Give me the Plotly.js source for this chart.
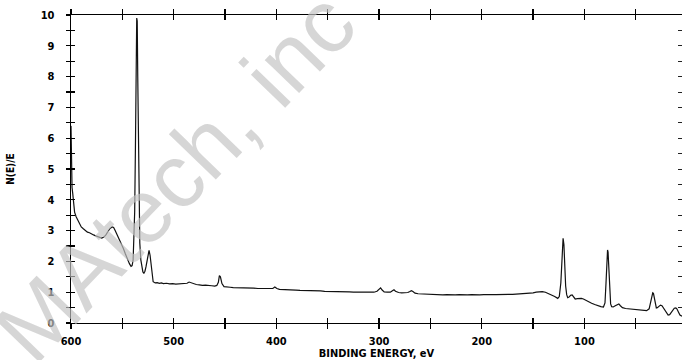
<!DOCTYPE html>
<html>
<head>
<meta charset="utf-8">
<script src="https://cdn.plot.ly/plotly-3.0.1.min.js"></script>
<style>html,body{margin:0;padding:0;background:#fff;}#chart{width:683px;height:360px;}</style>
</head>
<body>
<div id="chart"></div>
<script>
// Binding energy (eV) and N(E)/E
const bindingEnergy = [600, 599.5, 599, 598.3, 597.5, 596.5, 595, 593.5, 592, 590, 588, 586, 584, 582, 580, 578, 576, 574, 572, 570, 568, 566, 564, 562, 560, 558.5, 557, 555, 553, 551, 549, 547, 545, 543, 541.5, 540.5, 539.5, 538.8, 538, 537.3, 536.6, 536, 535.5, 535, 534.4, 533.8, 533, 532, 531, 530, 529, 528, 527, 526, 525, 524, 523, 522, 521, 520, 518, 516, 514, 512, 510, 507, 504, 501, 498, 495, 492, 489, 487, 485, 483, 481, 478, 475, 472, 469, 466, 463, 460, 458, 456.5, 455.5, 454.5, 453, 451, 448, 445, 442, 438, 434, 430, 426, 422, 418, 414, 410, 406, 403.5, 401.5, 399.5, 397, 393, 389, 385, 381, 377, 373, 369, 365, 361, 357, 353, 349, 345, 341, 337, 333, 329, 325, 321, 317, 313, 309, 305, 302, 300, 298.5, 297, 295, 292, 289, 287, 285.5, 284, 281, 278, 275, 272, 270, 268.5, 267, 265, 262, 258, 254, 250, 246, 242, 238, 234, 230, 226, 222, 218, 214, 210, 206, 202, 198, 194, 190, 186, 182, 178, 174, 170, 166, 162, 158, 154, 150, 147, 144, 141, 138, 135, 132, 129, 126, 124.5, 123, 122, 121.3, 120.8, 120, 119.3, 118.3, 117.3, 116.3, 115, 113.5, 112, 110.5, 109, 107, 105, 103, 101, 99, 96, 93, 90, 87, 84, 81.5, 80, 79, 78.2, 77.5, 77, 76.2, 75.3, 74.5, 73.5, 72, 70, 68, 66.5, 65, 63, 60, 57, 54, 51, 48, 45, 42, 39.5, 37, 35.5, 34.5, 33.5, 32.8, 32, 31, 30, 29, 27.5, 26, 24.5, 23, 21.5, 20, 18.5, 17, 15.5, 14, 12.5, 11, 10, 8.5, 7, 5];
const intensity = [6.4, 5.0, 4.4, 4.2, 3.8, 3.6, 3.45, 3.34, 3.26, 3.12, 3.06, 3.00, 2.95, 2.93, 2.88, 2.86, 2.83, 2.80, 2.77, 2.76, 2.79, 2.86, 2.97, 3.07, 3.12, 3.10, 3.00, 2.86, 2.72, 2.58, 2.42, 2.24, 2.06, 1.92, 1.84, 1.86, 2.05, 2.6, 3.6, 5.6, 8.0, 9.9, 9.8, 8.0, 5.5, 3.6, 2.6, 2.05, 1.80, 1.66, 1.62, 1.68, 1.82, 2.02, 2.22, 2.36, 2.20, 1.85, 1.50, 1.34, 1.30, 1.31, 1.29, 1.30, 1.28, 1.29, 1.27, 1.28, 1.26, 1.27, 1.26, 1.27, 1.29, 1.33, 1.30, 1.27, 1.25, 1.24, 1.22, 1.23, 1.21, 1.21, 1.20, 1.22, 1.32, 1.54, 1.50, 1.28, 1.18, 1.16, 1.16, 1.15, 1.15, 1.14, 1.15, 1.13, 1.13, 1.12, 1.12, 1.11, 1.10, 1.12, 1.17, 1.12, 1.09, 1.09, 1.08, 1.08, 1.07, 1.06, 1.06, 1.05, 1.05, 1.04, 1.04, 1.03, 1.03, 1.02, 1.02, 1.02, 1.01, 1.01, 1.00, 1.01, 1.00, 1.00, 0.99, 1.00, 1.03, 1.10, 1.14, 1.07, 1.01, 1.00, 1.00, 1.05, 1.08, 1.03, 0.99, 0.98, 0.98, 0.99, 1.02, 1.05, 1.02, 0.97, 0.95, 0.94, 0.93, 0.93, 0.92, 0.92, 0.91, 0.92, 0.91, 0.91, 0.92, 0.91, 0.91, 0.92, 0.91, 0.91, 0.92, 0.91, 0.92, 0.92, 0.93, 0.92, 0.93, 0.93, 0.94, 0.93, 0.94, 0.95, 0.98, 1.00, 1.02, 1.02, 1.00, 0.96, 0.91, 0.86, 0.80, 0.86, 1.30, 2.10, 2.60, 2.75, 2.55, 1.90, 1.20, 0.92, 0.82, 0.84, 0.90, 0.91, 0.84, 0.78, 0.79, 0.80, 0.80, 0.78, 0.74, 0.69, 0.64, 0.60, 0.56, 0.53, 0.52, 0.65, 1.30, 2.10, 2.37, 2.30, 1.75, 1.00, 0.62, 0.53, 0.52, 0.56, 0.61, 0.62, 0.56, 0.50, 0.47, 0.46, 0.45, 0.45, 0.44, 0.43, 0.41, 0.40, 0.46, 0.66, 0.88, 0.98, 0.96, 0.80, 0.58, 0.49, 0.50, 0.55, 0.58, 0.56, 0.48, 0.38, 0.30, 0.26, 0.27, 0.34, 0.42, 0.48, 0.49, 0.46, 0.36, 0.26, 0.22];

const xTickVals = [600, 550, 500, 450, 400, 350, 300, 250, 200, 150, 100, 50];
const xTickText = ['600', '', '500', '', '400', '', '300', '', '200', '', '100', ''];
const yTickVals = [0, 0.5, 1, 1.5, 2, 2.5, 3, 3.5, 4, 4.5, 5, 5.5, 6, 6.5, 7, 7.5, 8, 8.5, 9, 9.5, 10];
const yTickText = ['0', '', '1', '', '2', '', '3', '', '4', '', '5', '', '6', '', '7', '', '8', '', '9', '', '10'];
const xTitle = 'BINDING ENERGY, eV';
const yTitle = 'N(E)/E';
const watermarkText = 'MAtech, inc';

const FONT = 'DejaVu Sans Condensed, DejaVu Sans, sans-serif';
const X_RANGE = [600, 5];
const Y_RANGE = [0, 10];

const traces = [
  {x: bindingEnergy, y: intensity, type: 'scatter', mode: 'lines',
   line: {color: '#111', width: 1.2}, hoverinfo: 'skip', xaxis: 'x', yaxis: 'y'},
  {x: [], y: [], type: 'scatter', mode: 'lines', xaxis: 'x2', yaxis: 'y2', hoverinfo: 'skip'},
  {x: [], y: [], type: 'scatter', mode: 'lines', xaxis: 'x2', yaxis: 'y3', hoverinfo: 'skip'}
];

const tickFont = {family: FONT, size: 11, color: '#000', weight: 700};

const layout = {
  width: 683, height: 360,
  margin: {l: 71, r: 1, t: 15, b: 37, pad: 0},
  paper_bgcolor: '#fff', plot_bgcolor: '#fff',
  showlegend: false,
  font: {family: FONT, color: '#000'},
  xaxis: {
    range: X_RANGE, tickmode: 'array', tickvals: xTickVals, ticktext: xTickText,
    ticks: 'outside', ticklen: 5, tickwidth: 1.2, tickcolor: '#000',
    showline: true, linecolor: '#000', linewidth: 1.3, mirror: 'ticks',
    showgrid: false, zeroline: false, tickfont: tickFont, ticklabelstandoff: 2,
    title: {text: xTitle, font: {family: FONT, size: 11, color: '#000', weight: 700}, standoff: 0}
  },
  xaxis2: {
    range: X_RANGE, overlaying: 'x', tickmode: 'array', tickvals: xTickVals,
    showticklabels: false, ticks: 'inside', ticklen: 5, tickwidth: 1.2, tickcolor: '#000',
    showline: false, mirror: 'ticks', showgrid: false, zeroline: false
  },
  yaxis: {
    range: Y_RANGE, tickmode: 'array', tickvals: yTickVals, ticktext: yTickText,
    ticks: 'outside', ticklen: 4, tickwidth: 1.2, tickcolor: '#000',
    showline: true, linecolor: '#000', linewidth: 1.3,
    showgrid: false, zeroline: false, tickfont: tickFont, ticklabelstandoff: 9,
    title: {text: yTitle, font: {family: FONT, size: 10, color: '#000', weight: 700}, standoff: 24}
  },
  yaxis2: {
    range: Y_RANGE, overlaying: 'y', tickmode: 'array', tickvals: yTickVals,
    showticklabels: false, ticks: 'inside', ticklen: 4, tickwidth: 1.2, tickcolor: '#000',
    showline: false, showgrid: false, zeroline: false
  },
  yaxis3: {
    range: Y_RANGE, overlaying: 'y', side: 'right', tickmode: 'array', tickvals: yTickVals.slice(0, -1),
    showticklabels: false, ticks: 'inside', ticklen: 4, tickwidth: 1, tickcolor: '#222',
    showline: false, showgrid: false, zeroline: false
  },
  annotations: [{
    text: watermarkText, xref: 'paper', yref: 'paper', x: 0.17, y: 0.475,
    xanchor: 'center', yanchor: 'middle', showarrow: false, textangle: -46,
    font: {family: 'Liberation Sans, Arial, sans-serif', size: 90, color: 'rgba(195,195,195,0.68)'}
  }]
};

Plotly.newPlot('chart', traces, layout, {staticPlot: true, displayModeBar: false});
</script>
</body>
</html>
